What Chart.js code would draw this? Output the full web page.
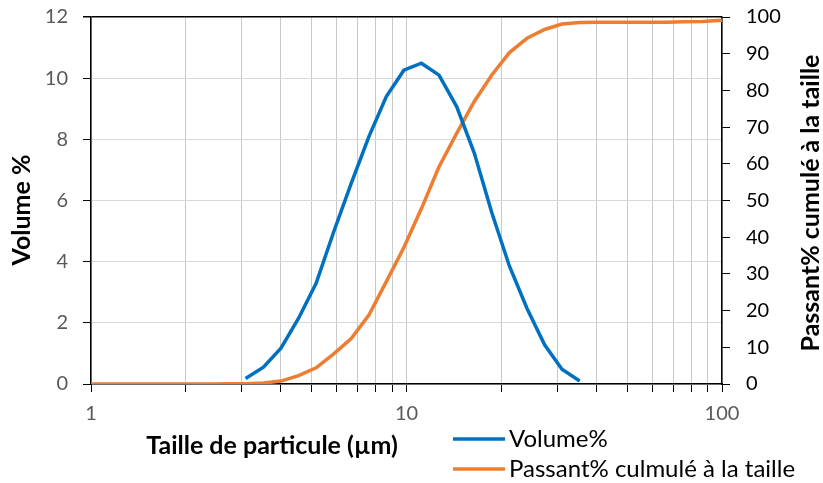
<!DOCTYPE html>
<html>
<head>
<meta charset="utf-8">
<script src="https://cdn.jsdelivr.net/npm/chart.js@4"></script>
<style>
  html, body { margin: 0; padding: 0; background: #fff; }
  #wrap { width: 823px; height: 483px; }
</style>
</head>
<body>
<div id="wrap"><canvas id="psdChart" width="823" height="483"></canvas></div>
<script>
// particle size classes (µm) and volume fraction per class
const sizes = [3.09, 3.52, 4.0, 4.55, 5.17, 5.88, 6.68, 7.6, 8.63, 9.81, 11.15, 12.68, 14.42, 16.4, 18.64, 21.2, 24.1, 27.4, 31.1, 35.4];
const volume = [0.18, 0.55, 1.17, 2.15, 3.29, 4.98, 6.56, 8.09, 9.4, 10.26, 10.49, 10.1, 9.07, 7.55, 5.6, 3.85, 2.47, 1.28, 0.48, 0.1];

// cumulative passing over the whole axis range
const cumSizes = [1, 1.5, 2, 2.4, 2.72, 3.09, 3.52, 4.0, 4.55, 5.17, 5.88, 6.68, 7.6, 8.63, 9.81, 11.15, 12.68, 14.42, 16.4, 18.64, 21.2, 24.1, 27.4, 31.1, 35.4, 40.2, 45.7, 52, 59, 67, 76, 86.6, 100];
const passant = [0, 0, 0, 0, 0.05, 0.1, 0.25, 0.8, 2.3, 4.4, 8.2, 12.4, 18.8, 27.9, 37.2, 47.8, 59.2, 68.3, 77.0, 84.2, 90.3, 94.2, 96.6, 98.1, 98.5, 98.6, 98.6, 98.6, 98.6, 98.6, 98.7, 98.8, 99.1];

// log axis: grid at every 1..9 step, labels on decades only
const xTicks = [1, 2, 3, 4, 5, 6, 7, 8, 9, 10, 20, 30, 40, 50, 60, 70, 80, 90, 100];
const xLabels = [1, 10, 100];
const seriesNames = ['Volume%', 'Passant% culmulé à la taille'];
const colors = ['#0070c0', '#ed7d31'];

const FONT = 'Lato, "Open Sans", sans-serif';

// axis titles and legend, placed by hand
const extras = {
  id: 'extras',
  afterDraw(chart) {
    const ctx = chart.ctx;
    ctx.save();
    ctx.fillStyle = '#000';
    ctx.font = 'bold 25px ' + FONT;
    ctx.textAlign = 'center';
    ctx.textBaseline = 'middle';
    ctx.fillText('Taille de particule (µm)', 272, 446);

    ctx.save();
    ctx.translate(22, 210);
    ctx.rotate(-Math.PI / 2);
    ctx.fillText('Volume %', 0, 0);
    ctx.restore();

    ctx.save();
    ctx.translate(811, 203);
    ctx.rotate(-Math.PI / 2);
    ctx.fillText('Passant% cumulé à la taille', 0, 0);
    ctx.restore();

    // legend
    ctx.font = '24px ' + FONT;
    ctx.textAlign = 'left';
    const rows = [439, 469];
    rows.forEach((y, i) => {
      ctx.strokeStyle = colors[i];
      ctx.lineWidth = 3.5;
      ctx.beginPath();
      ctx.moveTo(453, y);
      ctx.lineTo(505, y);
      ctx.stroke();
      ctx.fillText(seriesNames[i], 509, y);
    });
    ctx.restore();
  }
};

// fixed axis boxes, no extra label overhang
const fitY = w => s => { s.width = w; s.paddingTop = 0; s.paddingBottom = 0; };

new Chart(document.getElementById('psdChart'), {
  type: 'line',
  data: {
    datasets: [
      {
        label: seriesNames[0],
        data: sizes.map((s, i) => ({ x: s, y: volume[i] })),
        borderColor: colors[0],
        borderWidth: 3.5,
        pointRadius: 0,
        tension: 0,
        yAxisID: 'y'
      },
      {
        label: seriesNames[1],
        data: cumSizes.map((s, i) => ({ x: s, y: passant[i] })),
        borderColor: colors[1],
        borderWidth: 3.5,
        pointRadius: 0,
        tension: 0,
        yAxisID: 'y1'
      }
    ]
  },
  options: {
    responsive: false,
    animation: false,
    layout: { padding: { top: 17 } },
    plugins: { legend: { display: false }, tooltip: { enabled: false } },
    scales: {
      x: {
        type: 'logarithmic',
        min: 1,
        max: 100,
        afterBuildTicks: s => { s.ticks = xTicks.map(v => ({ value: v })); },
        afterFit: s => { s.height = 99; },
        border: { color: '#000', width: 1.5 },
        grid: { color: '#c9c9c9', tickColor: '#000', tickLength: 8 },
        ticks: {
          autoSkip: false,
          maxRotation: 0,
          padding: 10,
          color: '#595959',
          font: { family: FONT, size: 20 },
          callback: v => xLabels.includes(v) ? String(v) : ''
        }
      },
      y: {
        position: 'left',
        min: 0,
        max: 12,
        afterFit: fitY(91),
        border: { color: '#000', width: 1.5 },
        grid: {
          color: c => c.tick.value === 12 ? '#000' : '#d9d9d9',
          lineWidth: c => c.tick.value === 12 ? 1.5 : 1,
          tickColor: '#000',
          tickLength: 8
        },
        ticks: { stepSize: 2, padding: 15, color: '#595959', font: { family: FONT, size: 20 } }
      },
      y1: {
        position: 'right',
        min: 0,
        max: 100,
        afterFit: fitY(101),
        border: { color: '#000', width: 1.5 },
        grid: { drawOnChartArea: false, color: '#000', tickLength: 8 },
        ticks: { stepSize: 10, padding: 16, color: '#000', font: { family: FONT, size: 20 } }
      }
    }
  },
  plugins: [extras]
});
</script>
</body>
</html>
